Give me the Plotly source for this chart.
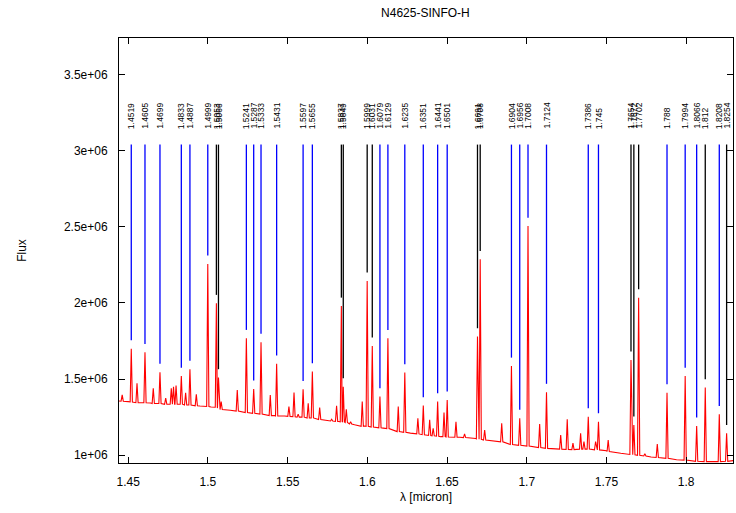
import plotly.graph_objects as go

# ---- data ----
# identified lines: wavelength (micron), label, colour group, peak flux below it
line_wl = [1.4519, 1.4605, 1.4699, 1.4833, 1.4887, 1.4999, 1.5053, 1.5066,
           1.5241, 1.5287, 1.5333, 1.5431, 1.5597, 1.5655, 1.5837, 1.5849,
           1.5999, 1.6031, 1.6079, 1.6129, 1.6235, 1.6351, 1.6441, 1.6501,
           1.6691, 1.6708, 1.6904, 1.6956, 1.7008, 1.7124, 1.7386, 1.745,
           1.7654, 1.7672, 1.7702, 1.788, 1.7994, 1.8066, 1.812, 1.8208, 1.8254]
line_lbl = ["1.4519", "1.4605", "1.4699", "1.4833", "1.4887", "1.4999", "1.5053", "1.5066",
            "1.5241", "1.5287", "1.5333", "1.5431", "1.5597", "1.5655", "1.5837", "1.5849",
            "1.5999", "1.6031", "1.6079", "1.6129", "1.6235", "1.6351", "1.6441", "1.6501",
            "1.6691", "1.6708", "1.6904", "1.6956", "1.7008", "1.7124", "1.7386", "1.745",
            "1.7654", "1.7672", "1.7702", "1.788", "1.7994", "1.8066", "1.812", "1.8208", "1.8254"]
line_grp = ["b", "b", "b", "b", "b", "b", "k", "k",
            "b", "b", "b", "b", "b", "b", "k", "k",
            "k", "k", "b", "b", "b", "b", "b", "b",
            "k", "k", "b", "b", "b", "b", "b", "b",
            "k", "k", "k", "b", "b", "b", "k", "b", "k"]
line_peak = [1.700e6, 1.676e6, 1.545e6, 1.520e6, 1.565e6, 2.256e6, 1.998e6, 1.510e6,
             1.768e6, 1.435e6, 1.742e6, 1.600e6, 1.433e6, 1.549e6, 1.980e6, 1.450e6,
             2.145e6, 1.718e6, 1.385e6, 1.768e6, 1.543e6, 1.326e6, 1.352e6, 1.363e6,
             1.779e6, 2.287e6, 1.586e6, 1.243e6, 2.505e6, 1.414e6, 1.253e6, 1.220e6,
             1.626e6, 1.199e6, 2.035e6, 1.411e6, 1.520e6, 1.192e6, 1.444e6, 1.269e6, 1.144e6]
line_base = [1.350e6, 1.345e6, 1.340e6, 1.335e6, 1.330e6, 1.320e6, 1.315e6, 1.310e6,
             1.280e6, 1.275e6, 1.270e6, 1.258e6, 1.250e6, 1.245e6, 1.220e6, 1.218e6,
             1.190e6, 1.185e6, 1.180e6, 1.175e6, 1.150e6, 1.135e6, 1.125e6, 1.120e6,
             1.108e6, 1.105e6, 1.070e6, 1.065e6, 1.060e6, 1.045e6, 1.040e6, 1.035e6,
             1.005e6, 1.003e6, 1.000e6, 0.980e6, 0.968e6, 0.960e6, 0.958e6, 0.958e6, 0.960e6]
line_top = 3.04e6

# other (unlabelled) emission peaks in the spectrum
pk_wl = [1.4462, 1.4555, 1.4657, 1.4735, 1.4770, 1.4784, 1.4800, 1.4860, 1.4927,
         1.5083, 1.5184, 1.5391, 1.5508, 1.5540, 1.5566, 1.5629, 1.5701, 1.5776,
         1.5807, 1.5868, 1.5895, 1.5968, 1.6194, 1.6317, 1.6391, 1.6413, 1.6481,
         1.6556, 1.6610, 1.6736, 1.6843, 1.7081, 1.7213, 1.7254, 1.7290, 1.7338,
         1.7359, 1.7432, 1.7511, 1.7741, 1.7819]
pk_flux = [1.396e6, 1.473e6, 1.440e6, 1.376e6, 1.440e6, 1.450e6, 1.457e6, 1.410e6, 1.400e6,
           1.352e6, 1.429e6, 1.396e6, 1.320e6, 1.411e6, 1.270e6, 1.341e6, 1.313e6, 1.236e6,
           1.324e6, 1.302e6, 1.220e6, 1.352e6, 1.320e6, 1.243e6, 1.232e6, 1.177e6, 1.280e6,
           1.220e6, 1.140e6, 1.166e6, 1.210e6, 1.205e6, 1.133e6, 1.236e6, 1.079e6, 1.144e6,
           1.090e6, 1.090e6, 1.100e6, 1.010e6, 1.074e6]
pk_base = [1.355e6, 1.345e6, 1.340e6, 1.335e6, 1.335e6, 1.335e6, 1.335e6, 1.330e6, 1.325e6,
           1.300e6, 1.290e6, 1.260e6, 1.255e6, 1.253e6, 1.250e6, 1.245e6, 1.235e6, 1.225e6,
           1.222e6, 1.215e6, 1.205e6, 1.190e6, 1.155e6, 1.140e6, 1.130e6, 1.128e6, 1.122e6,
           1.118e6, 1.116e6, 1.100e6, 1.088e6, 1.050e6, 1.040e6, 1.038e6, 1.037e6, 1.040e6,
           1.040e6, 1.035e6, 1.025e6, 0.995e6, 0.985e6]

# continuum points between the peaks
cont_wl = [1.4435, 1.4500, 1.4640, 1.4720, 1.4950, 1.5020, 1.5140, 1.5260, 1.5420,
           1.5480, 1.5690, 1.5820, 1.5920, 1.5980, 1.6100, 1.6270, 1.6400, 1.6460,
           1.6580, 1.6680, 1.6800, 1.6920, 1.7030, 1.7170, 1.7300, 1.7500, 1.7590,
           1.7780, 1.7940, 1.8060, 1.8180, 1.8298]
cont_flux = [1.357e6, 1.352e6, 1.343e6, 1.338e6, 1.323e6, 1.317e6, 1.295e6, 1.278e6, 1.260e6,
             1.258e6, 1.237e6, 1.222e6, 1.200e6, 1.192e6, 1.178e6, 1.145e6, 1.130e6, 1.122e6,
             1.118e6, 1.110e6, 1.090e6, 1.068e6, 1.058e6, 1.043e6, 1.037e6, 1.030e6, 1.013e6,
             0.988e6, 0.970e6, 0.960e6, 0.958e6, 0.965e6]

x_ticks = [1.45, 1.5, 1.55, 1.6, 1.65, 1.7, 1.75, 1.8]
x_tick_text = ["1.45", "1.5", "1.55", "1.6", "1.65", "1.7", "1.75", "1.8"]
y_ticks = [1.0e6, 1.5e6, 2.0e6, 2.5e6, 3.0e6, 3.5e6]
y_tick_text = ["1e+06", "1.5e+06", "2e+06", "2.5e+06", "3e+06", "3.5e+06"]

# ---- build spectrum polyline ----
HW = 0.0007   # half width of a peak
GAP = 0.055e6  # gap between peak and marker line

pts = []
all_pk = list(zip(line_wl, line_peak, line_base)) + list(zip(pk_wl, pk_flux, pk_base))
for w, f, b in all_pk:
    pts.append((w - HW, b))
    pts.append((w, f))
    pts.append((w + HW, b))
for w, f in zip(cont_wl, cont_flux):
    if all(abs(w - p[0]) > HW * 1.5 for p in all_pk):
        pts.append((w, f))
pts.sort(key=lambda p: p[0])
spec_x = [p[0] for p in pts]
spec_y = [p[1] for p in pts]

FONT = "Liberation Sans, Arial, sans-serif"

fig = go.Figure()
fig.add_trace(go.Scatter(x=spec_x, y=spec_y, mode="lines",
                         line=dict(color="#ff0000", width=1.1), hoverinfo="skip"))

for grp, col in (("b", "#0000ff"), ("k", "#000000")):
    xs, ys = [], []
    for w, g, p in zip(line_wl, line_grp, line_peak):
        if g == grp:
            xs += [w, w, None]
            ys += [p + GAP, line_top, None]
    fig.add_trace(go.Scatter(x=xs, y=ys, mode="lines",
                             line=dict(color=col, width=1.3), hoverinfo="skip"))

for w, t in zip(line_wl, line_lbl):
    fig.add_annotation(x=w, y=3.13e6, text=t, showarrow=False, textangle=-90,
                       xanchor="center", yanchor="bottom",
                       font=dict(size=8.5, color="#000000", family=FONT))

axis_common = dict(showline=True, linecolor="#000000", linewidth=1, mirror="ticks",
                   ticks="inside", ticklen=6, tickcolor="#000000", showgrid=False,
                   zeroline=False,
                   tickfont=dict(size=12, color="#000000", family=FONT))

fig.update_layout(
    width=736, height=513,
    margin=dict(l=119, r=3, t=38, b=50),
    paper_bgcolor="white", plot_bgcolor="white",
    showlegend=False,
    title=dict(text="N4625-SINFO-H", x=0.578, xanchor="center", y=0.975, yanchor="middle",
               font=dict(size=12, color="#000000", family=FONT)),
    xaxis=dict(range=[1.4442, 1.8294], tickvals=x_ticks, ticktext=x_tick_text,
               ticklabelstandoff=8,
               title=dict(text="λ [micron]", standoff=4,
                          font=dict(size=12, color="#000000", family=FONT)),
               **axis_common),
    yaxis=dict(range=[0.949e6, 3.74e6], tickvals=y_ticks, ticktext=y_tick_text,
               ticklabelstandoff=8,
               title=dict(text="Flux", standoff=34,
                          font=dict(size=12, color="#000000", family=FONT)),
               **axis_common),
)

fig.write_html("out.html")
